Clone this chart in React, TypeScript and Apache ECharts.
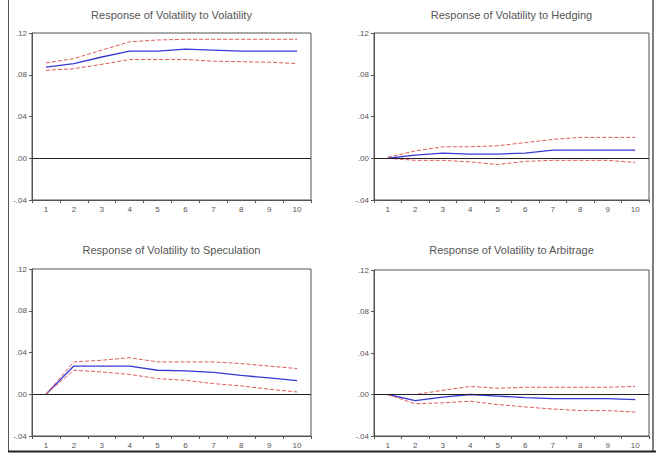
import React, { useEffect, useRef } from "react";
import * as echarts from "echarts";

const periods = ["1", "2", "3", "4", "5", "6", "7", "8", "9", "10"];
const yTicks = [-0.04, 0, 0.04, 0.08, 0.12];

const titles = [
  "Response of Volatility to Volatility",
  "Response of Volatility to Hedging",
  "Response of Volatility to Speculation",
  "Response of Volatility to Arbitrage",
];

const volVolResp = [0.0874, 0.0907, 0.097, 0.1026, 0.1026, 0.1045, 0.1035, 0.1026, 0.1026, 0.1026];
const volVolUpper = [0.0913, 0.0955, 0.1036, 0.1116, 0.1133, 0.114, 0.114, 0.114, 0.114, 0.114];
const volVolLower = [0.0842, 0.0858, 0.09, 0.0946, 0.0946, 0.0946, 0.093, 0.0925, 0.092, 0.0907];

const volHedResp = [0, 0.003, 0.005, 0.004, 0.004, 0.005, 0.0077, 0.0077, 0.0077, 0.0077];
const volHedUpper = [0.001, 0.007, 0.011, 0.011, 0.012, 0.015, 0.018, 0.02, 0.02, 0.02];
const volHedLower = [0, -0.002, -0.002, -0.0035, -0.006, -0.003, -0.002, -0.002, -0.002, -0.004];

const volSpecResp = [0, 0.027, 0.027, 0.027, 0.023, 0.0224, 0.021, 0.018, 0.0157, 0.013];
const volSpecUpper = [0, 0.031, 0.0326, 0.035, 0.031, 0.031, 0.031, 0.0294, 0.027, 0.0246];
const volSpecLower = [0, 0.023, 0.0214, 0.019, 0.015, 0.0134, 0.0102, 0.008, 0.0048, 0.0022];

const volArbResp = [0, -0.006, -0.0026, 0, -0.0015, -0.003, -0.004, -0.004, -0.004, -0.005];
const volArbUpper = [0, 0, 0.004, 0.0078, 0.006, 0.007, 0.007, 0.007, 0.007, 0.0078];
const volArbLower = [0, -0.009, -0.008, -0.0065, -0.0097, -0.012, -0.014, -0.0155, -0.0155, -0.017];

const panelData = [
  [volVolResp, volVolUpper, volVolLower],
  [volHedResp, volHedUpper, volHedLower],
  [volSpecResp, volSpecUpper, volSpecLower],
  [volArbResp, volArbUpper, volArbLower],
];

const grids = [
  { left: 32, top: 33, width: 279, height: 167 },
  { left: 374, top: 33, width: 275, height: 167 },
  { left: 32, top: 269, width: 279, height: 167 },
  { left: 374, top: 270, width: 275, height: 166 },
];
const titleTops = [9, 9, 244, 244];

const FONT = "Liberation Sans, Arial, sans-serif";

export default function App() {
  const ref = useRef<HTMLDivElement>(null);
  useEffect(() => {
    if (!ref.current) return;
    const chart = echarts.init(ref.current, null, { renderer: "svg" });
    const fmt = (v: number) => {
      const s = v.toFixed(2);
      return s.replace("0.", ".");
    };
    const option: any = {
      animation: false,
      backgroundColor: "#ffffff",
      title: grids.map((g, i) => ({
        text: titles[i],
        left: g.left + g.width / 2,
        top: titleTops[i],
        padding: 0,
        textAlign: "center",
        textStyle: { fontFamily: FONT, fontSize: 11, fontWeight: "normal", color: "#555" },
      })),
      grid: grids.map((g) => ({
        ...g,
        show: true,
        borderColor: "#555",
        borderWidth: 1,
        backgroundColor: "transparent",
      })),
      xAxis: grids.map((_, i) => ({
        type: "category",
        gridIndex: i,
        data: periods,
        boundaryGap: true,
        axisLine: { show: true, onZero: false, lineStyle: { color: "#555", width: 1 } },
        axisTick: { show: true, length: 3, inside: false, lineStyle: { color: "#555" } },
        axisLabel: { fontFamily: FONT, fontSize: 8, color: "#555", margin: 5 },
        splitLine: { show: false },
      })),
      yAxis: grids.map((_, i) => ({
        type: "value",
        gridIndex: i,
        min: yTicks[0],
        max: yTicks[yTicks.length - 1],
        interval: yTicks[1] - yTicks[0],
        axisLine: { show: true, lineStyle: { color: "#555", width: 1 } },
        axisTick: { show: true, length: 3, lineStyle: { color: "#555" } },
        axisLabel: { fontFamily: FONT, fontSize: 8, color: "#555", margin: 5, formatter: fmt },
        splitLine: { show: false },
      })),
      series: panelData.flatMap((d, i) => [
        {
          type: "line",
          xAxisIndex: i,
          yAxisIndex: i,
          data: d[0],
          symbol: "none",
          lineStyle: { color: "#3a3ad2", width: 1.3 },
          markLine: {
            silent: true,
            symbol: "none",
            label: { show: false },
            lineStyle: { color: "#222", type: "solid", width: 1 },
            data: [{ yAxis: 0 }],
          },
        },
        {
          type: "line",
          xAxisIndex: i,
          yAxisIndex: i,
          data: d[1],
          symbol: "none",
          lineStyle: { color: "#e05a5a", width: 1, type: [4, 2] },
        },
        {
          type: "line",
          xAxisIndex: i,
          yAxisIndex: i,
          data: d[2],
          symbol: "none",
          lineStyle: { color: "#e05a5a", width: 1, type: [4, 2] },
        },
      ]),
      graphic: [
        { type: "line", shape: { x1: 8.5, y1: 0, x2: 8.5, y2: 452 }, style: { stroke: "#555", lineWidth: 1 } },
        { type: "line", shape: { x1: 653, y1: 0, x2: 653, y2: 452 }, style: { stroke: "#555", lineWidth: 1.5 } },
        { type: "line", shape: { x1: 8, y1: 451.5, x2: 656, y2: 451.5 }, style: { stroke: "#222", lineWidth: 2 } },
      ],
    };
    chart.setOption(option);
    return () => chart.dispose();
  }, []);
  return (
    <div
      ref={ref}
      style={{ position: "absolute", left: 0, top: 0, width: 656, height: 455 }}
    />
  );
}
